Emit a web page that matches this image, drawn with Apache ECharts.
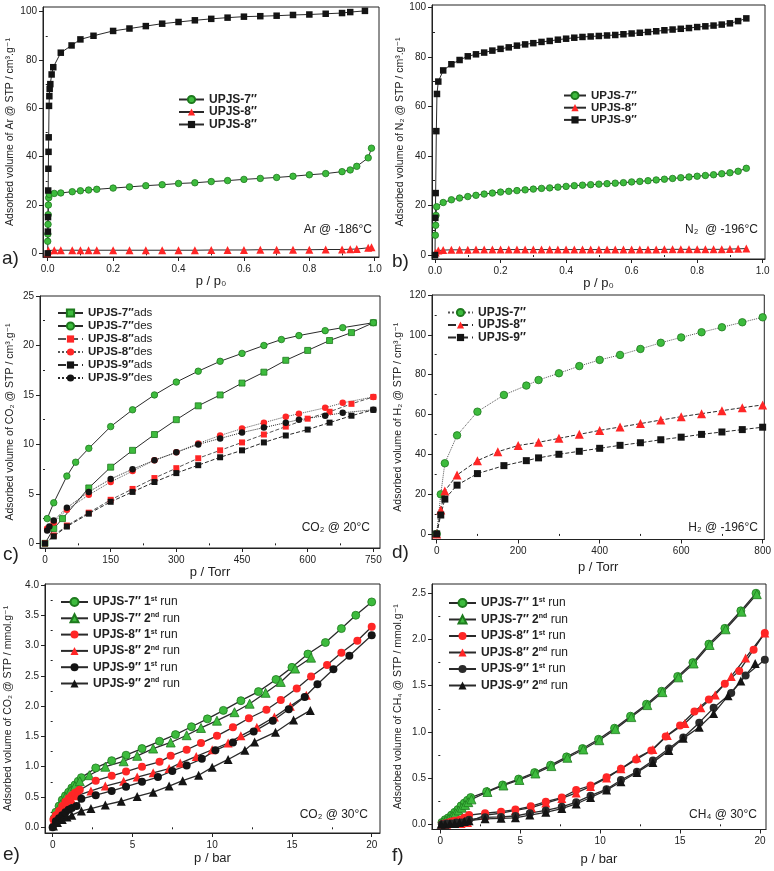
<!DOCTYPE html>
<html><head><meta charset="utf-8">
<script src="https://cdn.jsdelivr.net/npm/echarts@6/dist/echarts.min.js"></script>
<style>html,body{margin:0;padding:0;background:#fff}#c{width:774px;height:871px}</style>
</head><body><div id="c"></div>
<script>
// ---------------- DATA ----------------
// (a) Ar @ -186 C
const aX7 = [0,0.0005,0.001,0.0015,0.002,0.003,0.005,0.02,0.04,0.075,0.1,0.125,0.15,0.2,0.25,0.3,0.35,0.4,0.45,0.5,0.55,0.6,0.65,0.7,0.75,0.8,0.85,0.9,0.925,0.945,0.98,0.99];
const aY7 = [5,8,12,16,20,23,24.4,24.8,25,25.5,25.9,26.2,26.5,27,27.5,28,28.4,28.9,29.2,29.7,30.1,30.6,31,31.4,31.9,32.5,33,33.8,34.5,36,39.5,43.5];
const aX8 = [0,0.002,0.02,0.04,0.075,0.1,0.125,0.15,0.2,0.25,0.3,0.35,0.4,0.45,0.5,0.55,0.6,0.65,0.7,0.75,0.8,0.85,0.9,0.925,0.945,0.98,0.99];
const aY8 = [0,1.2,1.3,1.3,1.3,1.3,1.3,1.3,1.3,1.3,1.3,1.3,1.3,1.3,1.4,1.4,1.4,1.5,1.5,1.5,1.5,1.6,1.6,1.7,1.8,2.3,2.5];
const aX9 = [0,0.0005,0.001,0.0015,0.002,0.0025,0.003,0.004,0.005,0.006,0.008,0.012,0.017,0.04,0.073,0.1,0.14,0.2,0.25,0.3,0.35,0.4,0.45,0.5,0.55,0.6,0.65,0.7,0.75,0.8,0.85,0.9,0.925,0.97];
const aY9 = [0,9,15,26,35,42,48,61,65,68,70,74,77,83,86,88.5,90,92,93,94,95,95.7,96.4,97,97.5,97.9,98.1,98.3,98.6,98.8,99.1,99.4,99.8,100.3];
// (b) N2 @ -196 C
const bP  = [0.025,0.05,0.075,0.1,0.125,0.15,0.175,0.2,0.225,0.25,0.275,0.3,0.325,0.35,0.375,0.4,0.425,0.45,0.475,0.5,0.525,0.55,0.575,0.6,0.625,0.65,0.675,0.7,0.725,0.75,0.775,0.8,0.825,0.85,0.875,0.9,0.925,0.95];
const bX7 = [0.001,0.002,0.003,0.005].concat(bP);
const bY7 = [8,12,16,19.5,21.2,22.3,23,23.6,24.1,24.6,25,25.4,25.7,26,26.3,26.6,26.9,27.1,27.4,27.7,28,28.2,28.4,28.6,28.8,29,29.2,29.5,29.7,30,30.3,30.6,30.9,31.2,31.5,31.8,32.1,32.4,32.8,33.2,33.8,35];
const bX8 = [0.002,0.01].concat(bP);
const bY8 = [1,1.8,2.0,2.1,2.1,2.1,2.2,2.2,2.2,2.2,2.2,2.2,2.2,2.2,2.2,2.2,2.2,2.2,2.2,2.2,2.2,2.2,2.2,2.2,2.2,2.2,2.2,2.2,2.2,2.3,2.3,2.3,2.3,2.3,2.3,2.3,2.3,2.4,2.5,2.6];
const bX9 = [0,0.001,0.002,0.004,0.006,0.01].concat(bP);
const bY9 = [0,15,25,50,65,70,74.5,77,78.7,80.2,81,81.7,82.5,83.2,83.8,84.5,85,85.5,86,86.4,86.9,87.3,87.7,88,88.2,88.4,88.6,88.8,89.1,89.4,89.7,90,90.3,90.7,91,91.3,91.6,92,92.3,92.6,93,93.5,94.4,95.5];
// (c) CO2 @ 20 C
const cX7a = [0,20,40,100,150,200,250,300,350,400,450,500,550,600,650,700,750];
const cY7a = [0,1.5,2.5,5.6,7.7,9.4,11,12.5,13.9,15,16.2,17.3,18.5,19.5,20.5,21.3,22.3];
const cX7d = [5,20,50,70,100,150,200,250,300,350,400,450,500,540,580,640,680,750];
const cY7d = [2.5,4.1,6.8,8.2,9.6,11.8,13.5,15,16.3,17.4,18.4,19.2,20,20.6,21,21.5,21.8,22.3];
const cX8a = [0,20,50,100,150,200,250,300,350,400,450,500,550,600,650,700,750];
const cY8a = [0,0.8,1.8,3.1,4.4,5.5,6.6,7.6,8.6,9.4,10.2,11,11.8,12.6,13.3,14.1,14.8];
const cX8d = [5,20,50,100,150,200,250,300,350,400,450,500,550,580,640,680,750];
const cY8d = [1.5,2.1,3.4,4.9,6.2,7.3,8.4,9.2,10.1,10.9,11.6,12.2,12.8,13.1,13.7,14.2,14.8];
const cX9a = [0,20,50,100,150,200,250,300,350,400,450,500,550,600,650,700,750];
const cY9a = [0,0.7,1.7,3.0,4.2,5.2,6.2,7.1,7.9,8.7,9.4,10.2,10.9,11.5,12.2,12.9,13.5];
const cX9d = [5,10,20,50,100,150,200,250,300,350,400,450,500,550,580,640,680,750];
const cY9d = [1.3,1.7,2.3,3.6,5.2,6.5,7.5,8.4,9.2,10,10.6,11.2,11.7,12.2,12.5,12.9,13.2,13.5];
// (d) H2 @ -196 C
const dX7 = [0,10,20,50,100,165,220,250,300,350,400,450,500,550,600,650,700,750,800];
const dY7 = [0,19.9,35.5,49.5,61.4,69.8,74.5,77.3,80.7,84.3,87.4,89.9,92.9,96,98.7,101.3,103.8,106.3,108.8];
const dX8 = [0,10,20,50,100,150,200,250,300,350,400,450,500,550,600,650,700,750,800];
const dY8 = [0,12,21.6,29.6,36.8,41.3,44.4,46,48,50,52,53.7,55.4,57.2,58.9,60.4,61.9,63.4,64.8];
const dX9 = [0,10,20,50,100,165,220,250,300,350,400,450,500,550,600,650,700,750,800];
const dY9 = [0,9.5,17.5,24.5,30.3,34.3,36.8,38.2,40,41.5,43,44.5,45.8,47.3,48.6,50,51.2,52.4,53.6];
// (e) CO2 @ 30 C
const eX7a = [0.1,0.2,0.4,0.6,0.8,1.0,1.2,1.4,1.6,1.8,2.7,3.7,4.6,5.6,6.7,7.7,8.7,9.7,10.7,11.8,12.9,14.0,15.0,16.0,17.1,18.1,19.0,20.0];
const eY7a = [0.15,0.25,0.35,0.45,0.52,0.58,0.65,0.7,0.76,0.82,0.98,1.1,1.19,1.3,1.42,1.53,1.66,1.79,1.93,2.09,2.24,2.44,2.64,2.86,3.05,3.28,3.5,3.72];
const eX7b = [0.2,0.5,0.8,1.1,1.4,1.7,2.3,3.3,4.45,5.3,6.3,7.4,8.4,9.3,10.3,11.4,12.35,13.35,14.3,15.2,16.2];
const eY7b = [0.2,0.38,0.5,0.6,0.68,0.76,0.86,1.0,1.09,1.18,1.3,1.4,1.52,1.64,1.76,1.9,2.04,2.22,2.4,2.62,2.8];
const eX8a = [0.05,0.2,0.4,0.6,0.8,1.0,1.2,1.4,1.6,1.7,2.7,3.7,4.6,5.6,6.7,7.4,8.4,9.3,10.3,11.3,12.3,13.4,14.3,15.3,16.2,17.2,18.1,19.1,20.0];
const eY8a = [0.13,0.2,0.27,0.35,0.42,0.48,0.53,0.57,0.6,0.62,0.77,0.85,0.92,1.0,1.08,1.18,1.28,1.39,1.51,1.65,1.8,1.94,2.1,2.29,2.49,2.68,2.88,3.08,3.31];
const eX8b = [0.1,0.3,0.6,0.9,1.2,1.5,2.4,3.3,4.45,5.3,6.3,7.3,8.0,9.0,10.0,11.0,11.8,12.8,13.9,14.9,15.9];
const eY8b = [0.12,0.2,0.3,0.38,0.45,0.52,0.6,0.68,0.76,0.83,0.9,0.97,1.06,1.17,1.28,1.39,1.51,1.65,1.82,2.0,2.18];
const eX9a = [0,0.2,0.4,0.6,0.8,1.0,1.2,1.5,1.8,2.7,3.7,4.6,5.6,6.6,7.5,8.4,9.35,10.2,11.3,12.6,13.8,14.8,15.8,16.6,17.6,18.6,20.0];
const eY9a = [0,0.1,0.15,0.2,0.25,0.29,0.32,0.35,0.47,0.53,0.6,0.67,0.75,0.83,0.93,1.02,1.13,1.27,1.4,1.58,1.76,1.95,2.15,2.36,2.61,2.83,3.17];
const eX9b = [0.05,0.3,0.6,0.9,1.2,1.8,2.4,3.3,4.3,5.3,6.3,7.3,8.15,9.15,10.0,11.0,12.05,12.66,13.97,15.1,16.15];
const eY9b = [0.02,0.08,0.13,0.17,0.2,0.27,0.31,0.37,0.43,0.51,0.58,0.68,0.77,0.86,0.99,1.12,1.27,1.41,1.57,1.77,1.93];
// (f) CH4 @ 30 C
const fX7a = [0.1,0.3,0.5,0.7,0.9,1.1,1.3,1.5,1.7,1.9,2.9,3.9,4.9,5.9,6.9,7.9,8.9,9.9,10.9,11.9,12.9,13.85,14.85,15.8,16.8,17.8,18.8,19.75];
const fY7a = [0.02,0.05,0.07,0.1,0.13,0.16,0.2,0.23,0.26,0.29,0.354,0.426,0.49,0.56,0.64,0.73,0.82,0.92,1.04,1.17,1.3,1.44,1.6,1.75,1.95,2.12,2.31,2.5];
const fX7b = [0.15,0.35,0.55,0.75,0.95,1.15,1.35,1.55,1.75,1.95,2.95,3.95,4.95,5.95,6.95,7.95,8.95,9.95,10.95,11.95,12.95,13.9,14.9,15.85,16.85,17.85,18.85,19.8];
const fY7b = [0.02,0.04,0.06,0.09,0.12,0.15,0.18,0.21,0.24,0.27,0.35,0.42,0.48,0.55,0.63,0.72,0.81,0.91,1.03,1.16,1.29,1.43,1.59,1.74,1.94,2.11,2.3,2.49];
const fX8a = [0.1,0.3,0.5,0.7,0.9,1.2,1.5,1.8,2.8,3.8,4.7,5.66,6.6,7.6,8.5,9.4,10.4,11.3,12.25,13.2,14.1,15.0,15.9,16.8,17.8,18.7,19.6,20.3];
const fY8a = [0,0.01,0.02,0.03,0.04,0.05,0.07,0.1,0.12,0.137,0.16,0.195,0.245,0.29,0.37,0.42,0.51,0.6,0.7,0.8,0.95,1.07,1.22,1.35,1.52,1.66,1.89,2.07];
const fX8b = [0.1,0.4,0.7,1.0,1.3,1.7,2.8,3.8,4.7,5.7,6.6,7.6,8.5,9.4,10.4,11.3,12.3,13.3,14.2,15.3,16.3,17.2,18.2,19.1,20.3];
const fY8b = [0,0,0.01,0.01,0.01,0.02,0.1,0.12,0.15,0.18,0.23,0.28,0.34,0.41,0.5,0.6,0.72,0.81,0.96,1.09,1.26,1.4,1.6,1.8,2.07];
const fX9a = [0.1,0.4,0.7,1.0,1.3,1.6,1.8,2.8,3.8,4.7,5.6,6.6,7.6,8.5,9.4,10.4,11.3,12.3,13.3,14.3,15.2,16.2,17.1,18.2,19.1,20.3];
const fY9a = [0,0.01,0.01,0.02,0.02,0.03,0.05,0.076,0.08,0.09,0.12,0.15,0.19,0.24,0.31,0.38,0.48,0.57,0.69,0.82,0.94,1.1,1.26,1.42,1.61,1.78];
const fX9b = [0.05,0.3,0.6,0.9,1.2,1.5,1.8,2.8,3.8,4.7,5.6,6.6,7.6,8.5,9.4,10.4,11.3,12.3,13.3,14.3,15.2,16.2,17.1,18.0,18.8,19.7];
const fY9b = [0,0,0.01,0.01,0.02,0.03,0.04,0.06,0.065,0.07,0.1,0.13,0.17,0.22,0.29,0.37,0.46,0.56,0.67,0.8,0.93,1.05,1.2,1.39,1.55,1.74];

// tick labels
const tP  = [0,0.2,0.4,0.6,0.8,1.0],  mP  = [0.1,0.3,0.5,0.7,0.9];
const tV  = [0,20,40,60,80,100],      mV  = [10,30,50,70,90];
const tTc = [0,150,300,450,600,750],  mTc = [75,225,375,525,675];
const tCc = [0,5,10,15,20,25],        mCc = [2.5,7.5,12.5,17.5,22.5];
const tTd = [0,200,400,600,800],      mTd = [100,300,500,700];
const tHd = [0,20,40,60,80,100,120],  mHd = [10,30,50,70,90,110];
const tB  = [0,5,10,15,20],           mB  = [2.5,7.5,12.5,17.5];
const tEe = [0,0.5,1,1.5,2,2.5,3,3.5,4], mEe = [0.25,0.75,1.25,1.75,2.25,2.75,3.25,3.75];
const tMf = [0,0.5,1,1.5,2,2.5],      mMf = [0.25,0.75,1.25,1.75,2.25];

// ---------------- STYLE / LAYOUT ----------------
const FONT = '"Liberation Sans", Arial, "DejaVu Sans", sans-serif';
const INK = '#222';
const GREEN = '#3dbb3d', GREEN_B = '#1e7a1e', RED = '#ff2626', BLACK = '#141414';

const grids = [
  {left:43,  top:7,   width:336, height:250},
  {left:432, top:5,   width:333, height:254},
  {left:40,  top:296, width:340, height:252},
  {left:432, top:295, width:333, height:244.5},
  {left:45,  top:584, width:335, height:249},
  {left:432, top:584, width:334, height:245.5}
].map(g => Object.assign(g, {show:true, borderColor:INK, borderWidth:1, containLabel:false}));

const f1 = v => v.toFixed(1), f0 = v => String(v);
// [xmin,xmax,xticks,xminor,xfmt,xname,xgap, ymin,ymax,yticks,yminor,yfmt,yname,ygap]
const AX = [
  [-0.0144,1.013,tP,mP,f1,'p / p₀',15, -1.5,101.9,tV,mV,f0,'Adsorbed volume of Ar @ STP / cm³.g⁻¹',27],
  [-0.0092,1.007,tP,mP,f1,'p / p₀',13, -1.6,100.9,tV,mV,f0,'Adsorbed volume of N₂ @ STP / cm³.g⁻¹',26],
  [-11.4,765.2,tTc,mTc,f0,'p / Torr',12, -0.47,25,tCc,mCc,f0,'Adsorbed volume of CO₂ @ STP / cm³.g⁻¹',24],
  [-11.5,804,tTd,mTd,f0,'p / Torr',21, -2.8,120,tHd,mHd,f0,'Adsorbed volume of H₂ @ STP / cm³.g⁻¹',28],
  [-0.48,20.52,tB,mB,f0,'p / bar',19, -0.094,4.016,tEe,mEe,f1,'Adsorbed volume of CO₂ @ STP / mmol.g⁻¹',31],
  [-0.52,20.375,tB,mB,f0,'p / bar',23, -0.056,2.6,tMf,mMf,f1,'Adsorbed volume of CH₄ @ STP / mmol.g⁻¹',28]
];

const xAxis = [], yAxis = [];
AX.forEach((a, gi) => {
  xAxis.push({type:'value', gridIndex:gi, position:'bottom', min:a[0], max:a[1],
    name:a[5], nameLocation:'middle', nameGap:a[6],
    nameTextStyle:{fontFamily:FONT, fontSize:13, color:INK},
    axisLine:{show:true, onZero:false, lineStyle:{color:INK, width:1}},
    axisTick:{show:true, inside:false, length:4, customValues:a[2], lineStyle:{color:INK, width:1}},
    axisLabel:{customValues:a[2], formatter:a[4], fontFamily:FONT, fontSize:10, color:INK, margin:7},
    splitLine:{show:false}});
  yAxis.push({type:'value', gridIndex:gi, position:'left', min:a[7], max:a[8],
    name:a[12], nameLocation:'middle', nameGap:a[13],
    nameTextStyle:{fontFamily:FONT, fontSize:10.5, color:INK},
    axisLine:{show:true, onZero:false, lineStyle:{color:INK, width:1}},
    axisTick:{show:true, inside:false, length:4, customValues:a[9], lineStyle:{color:INK, width:1}},
    axisLabel:{customValues:a[9], formatter:a[11], fontFamily:FONT, fontSize:10, color:INK, margin:6},
    splitLine:{show:false}});
});
// minor ticks
AX.forEach((a, gi) => {
  xAxis.push({type:'value', gridIndex:gi, position:'bottom', min:a[0], max:a[1],
    axisLine:{show:false}, axisLabel:{show:false}, splitLine:{show:false},
    axisTick:{show:true, inside:false, length:2, customValues:a[3], lineStyle:{color:INK}}});
  yAxis.push({type:'value', gridIndex:gi, position:'left', min:a[7], max:a[8],
    axisLine:{show:false}, axisLabel:{show:false}, splitLine:{show:false},
    axisTick:{show:true, inside:false, length:2, customValues:a[10], lineStyle:{color:INK}}});
});

function S(name, gi, xs, ys, o) {
  return {type:'line', name, xAxisIndex:gi, yAxisIndex:gi,
    data: xs.map((x, i) => [x, ys[i]]),
    symbol:o.sym, symbolSize:o.size, showSymbol:true, showAllSymbol:true,
    lineStyle:{color:o.lc || '#2a2a2a', width:o.lw || 1, type:o.lt || 'solid'},
    itemStyle:{color:o.c, borderColor:o.bc || o.c, borderWidth:o.bw || 0},
    emphasis:{disabled:true}, animation:false, z:o.z || 2};
}
const G  = (sym, size, extra) => Object.assign({sym, size, c:GREEN, bc:GREEN_B, bw:0.8}, extra || {});
const Rd = (sym, size, extra) => Object.assign({sym, size, c:RED}, extra || {});
const K  = (sym, size, extra) => Object.assign({sym, size, c:BLACK}, extra || {});

const series = [
  S('a7',0,aX7,aY7,G('circle',6.5)), S('a8',0,aX8,aY8,Rd('triangle',8)), S('a9',0,aX9,aY9,K('rect',6.5)),
  S('b7',1,bX7,bY7,G('circle',6.5)), S('b8',1,bX8,bY8,Rd('triangle',8)), S('b9',1,bX9,bY9,K('rect',6.5)),
  S('c7a',2,cX7a,cY7a,G('rect',6)), S('c7d',2,cX7d,cY7d,G('circle',6.5)),
  S('c8a',2,cX8a,cY8a,Rd('rect',6,{lt:'dashed',lc:'#555'})), S('c8d',2,cX8d,cY8d,Rd('circle',6.5,{lt:'dotted',lc:'#555'})),
  S('c9a',2,cX9a,cY9a,K('rect',6,{lt:'dashed'})), S('c9d',2,cX9d,cY9d,K('circle',6.5,{lt:'dotted'})),
  S('d7',3,dX7,dY7,G('circle',7.5,{lt:'dotted',lc:'#555'})), S('d8',3,dX8,dY8,Rd('triangle',9,{lt:'dashed'})), S('d9',3,dX9,dY9,K('rect',7,{lt:'dashed'})),
  S('e7a',4,eX7a,eY7a,G('circle',8,{lw:1.3})), S('e7b',4,eX7b,eY7b,G('triangle',9,{lw:1.3})),
  S('e8a',4,eX8a,eY8a,Rd('circle',8,{lw:1.3})), S('e8b',4,eX8b,eY8b,Rd('triangle',9,{lw:1.3})),
  S('e9a',4,eX9a,eY9a,K('circle',8,{lw:1.3})), S('e9b',4,eX9b,eY9b,K('triangle',9,{lw:1.3})),
  S('f7a',5,fX7a,fY7a,G('circle',8,{lw:1.3})), S('f7b',5,fX7b,fY7b,G('triangle',9,{lw:1.3})),
  S('f8a',5,fX8a,fY8a,Rd('circle',8,{lw:1.3})), S('f8b',5,fX8b,fY8b,Rd('triangle',9,{lw:1.3})),
  S('f9a',5,fX9a,fY9a,K('circle',8,{lw:1.3,c:'#2a2a2a'})), S('f9b',5,fX9b,fY9b,K('triangle',9,{lw:1.3}))
];

const P = 'UPJS-', Q = '′′';
const LBL = {
  a7:`{b|${P}7${Q}}`, a8:`{b|${P}8${Q}}`, a9:`{b|${P}8${Q}}`,
  b7:`{b|${P}7${Q}}`, b8:`{b|${P}8${Q}}`, b9:`{b|${P}9${Q}}`,
  c7a:`{b|${P}7${Q}}{r|ads}`, c7d:`{b|${P}7${Q}}{r|des}`, c8a:`{b|${P}8${Q}}{r|ads}`,
  c8d:`{b|${P}8${Q}}{r|des}`, c9a:`{b|${P}9${Q}}{r|ads}`, c9d:`{b|${P}9${Q}}{r|des}`,
  d7:`{b|${P}7${Q}}`, d8:`{b|${P}8${Q}}`, d9:`{b|${P}9${Q}}`,
  e7a:`{b|${P}7${Q} 1}{s|st}{r| run}`, e7b:`{b|${P}7${Q} 2}{s|nd}{r| run}`,
  e8a:`{b|${P}8${Q} 1}{s|st}{r| run}`, e8b:`{b|${P}8${Q} 2}{s|nd}{r| run}`,
  e9a:`{b|${P}9${Q} 1}{s|st}{r| run}`, e9b:`{b|${P}9${Q} 2}{s|nd}{r| run}`,
  f7a:`{b|${P}7${Q} 1}{s|st}{r| run}`, f7b:`{b|${P}7${Q} 2}{s|nd}{r| run}`,
  f8a:`{b|${P}8${Q} 1}{s|st}{r| run}`, f8b:`{b|${P}8${Q} 2}{s|nd}{r| run}`,
  f9a:`{b|${P}9${Q} 1}{s|st}{r| run}`, f9b:`{b|${P}9${Q} 2}{s|nd}{r| run}`
};
function LG(names, left, top, fs, lh, gap, iw, ih) {
  return {show:true, orient:'vertical', left, top, itemGap:gap, itemWidth:iw, itemHeight:ih,
    selectedMode:false, data:names, formatter:n => LBL[n], padding:0,
    textStyle:{fontFamily:FONT, color:INK, fontSize:fs,
      rich:{b:{fontWeight:'bold', fontSize:fs, lineHeight:lh, fontFamily:FONT, color:INK},
            r:{fontSize:fs, lineHeight:lh, fontFamily:FONT, color:INK},
            s:{fontSize:7, fontWeight:'bold', lineHeight:8, verticalAlign:'top', fontFamily:FONT, color:INK}}}};
}
const legend = [
  LG(['a7','a8','a9'], 178, 93.5, 12, 13, 0.5, 25, 9),
  LG(['b7','b8','b9'], 563, 89.5, 11.5, 11.5, 0.2, 22, 9),
  LG(['c7a','c7d','c8a','c8d','c9a','c9d'], 57, 307, 11.5, 12, 1, 25, 9),
  LG(['d7','d8','d9'], 447, 306.5, 12, 13, 0.5, 25, 9),
  LG(['e7a','e7b','e8a','e8b','e9a','e9b'], 60, 595.5, 12, 13, 3.8, 27, 10),
  LG(['f7a','f7b','f8a','f8b','f9a','f9b'], 448, 596.5, 12, 13, 4, 27, 10)
];

function T(text, x, y, size, align) {
  return {type:'text', x, y, silent:true, z:100,
    style:{text, font:`${size}px ${FONT}`, fill:INK, align:align || 'left', verticalAlign:'middle',
           textAlign:align || 'left', textVerticalAlign:'middle'}};
}
const graphic = [
  T('a)', 2, 259, 19), T('b)', 392, 262, 19), T('c)', 3, 555, 19),
  T('d)', 392, 553, 19), T('e)', 3, 855, 19), T('f)', 392, 856, 19),
  T('Ar @ -186°C', 372, 230, 12, 'right'), T('N₂  @ -196°C', 758, 230, 12, 'right'),
  T('CO₂ @ 20°C', 370, 528, 12, 'right'), T('H₂ @ -196°C', 758, 528, 12, 'right'),
  T('CO₂ @ 30°C', 368, 815, 12, 'right'), T('CH₄ @ 30°C', 757, 815, 12, 'right')
];

const chart = echarts.init(document.getElementById('c'), null, {renderer:'canvas'});
chart.setOption({backgroundColor:'#fff', animation:false, grid:grids, xAxis, yAxis, series, legend, graphic});
</script></body></html>
